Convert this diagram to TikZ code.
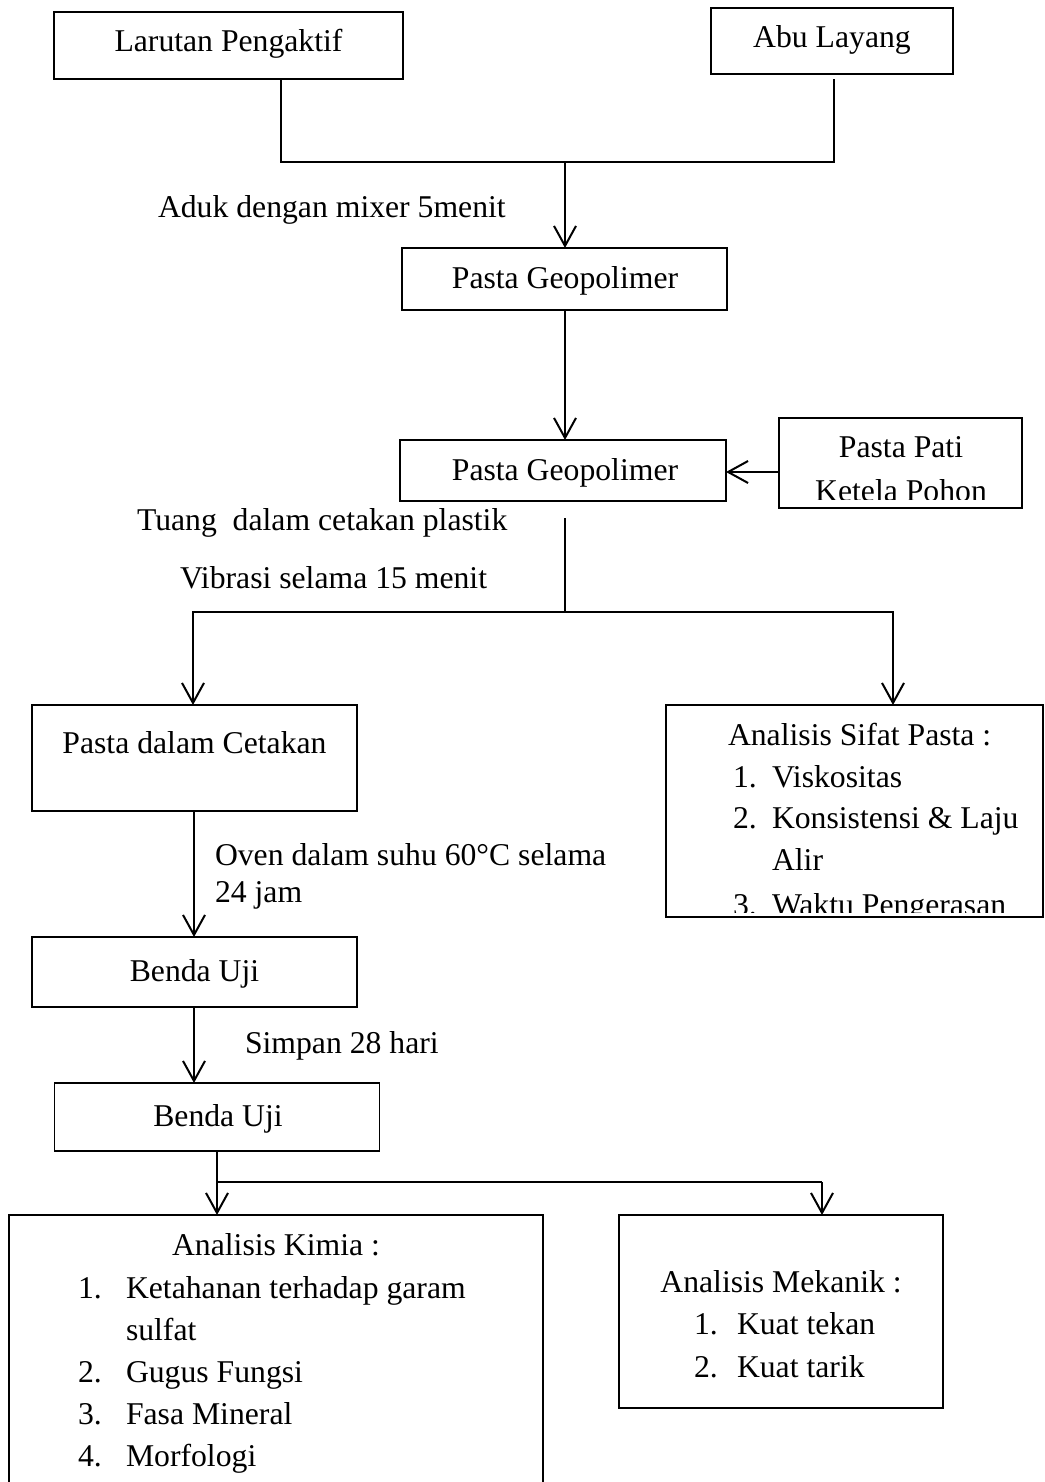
\documentclass[tikz,border=0pt]{standalone}
\usepackage{fontspec}
\setmainfont{Liberation Serif}
\usetikzlibrary{arrows.meta,calc}
\begin{document}
\begin{tikzpicture}[x=1pt,y=-1pt,
  box/.style={draw, line width=1.3pt, inner sep=0pt, outer sep=0pt},
  txt/.style={inner sep=0pt, outer sep=0pt, font=\fontsize{31.7}{38}\selectfont},
  conn/.style={line width=2pt},
  arr/.style={line width=2pt, -{Straight Barb[length=20pt,width=22pt,line width=2pt]}}]
\path[use as bounding box, clip] (0,0) rectangle (1044,1482);
\fill[white] (0,0) rectangle (1044,1482);
% boxes
\node[box, minimum width=349pt, minimum height=67pt] (lp) at (228.5,45.5) {};
\node[box, minimum width=242pt, minimum height=66pt] (ab) at (832,41) {};
\node[box, minimum width=325pt, minimum height=62pt] (pg1) at (564.5,279) {};
\node[box, minimum width=326pt, minimum height=61pt] (pg2) at (563,470.5) {};
\node[box, minimum width=243pt, minimum height=90pt] (pp) at (900.5,463) {};
\node[box, minimum width=325pt, minimum height=106pt] (pdc) at (194.5,758) {};
\node[box, minimum width=377pt, minimum height=212pt] (sf) at (854.5,811) {};
\node[box, minimum width=325pt, minimum height=70pt] (bu1) at (194.5,972) {};
\node[box, minimum width=325pt, minimum height=68pt] (bu2) at (217,1117) {};
\node[box, minimum width=534pt, minimum height=290pt] (km) at (276,1360) {};
\node[box, minimum width=324pt, minimum height=193pt] (mk) at (781,1311.5) {};
% texts
\node[txt, anchor=base] (tlp) at (228.5,52) {Larutan Pengaktif};
\node[txt, anchor=base] (tab) at (832,48) {Abu Layang};
\node[txt, anchor=base west] (taduk) at (158,218) {Aduk dengan mixer 5menit};
\node[txt, anchor=base] (tpg1) at (565,288) {Pasta Geopolimer};
\node[txt, anchor=base] (tpg2) at (565,480) {Pasta Geopolimer};
\node[txt, anchor=base] (tpp1) at (901,457) {Pasta Pati};
\begin{scope}
\clip (780,419) rectangle (1021,499);
\node[txt, anchor=base] (tpp2) at (901,501) {Ketela Pohon};
\end{scope}
\node[txt, anchor=base west] (ttuang) at (137,530) {Tuang~ dalam cetakan plastik};
\node[txt, anchor=base west] (tvib) at (180,588) {Vibrasi selama 15 menit};
\node[txt, anchor=base] (tpdc) at (194.5,753) {Pasta dalam Cetakan};
\node[txt, anchor=base west] (tsf) at (728,745) {Analisis Sifat Pasta :};
\node[txt, anchor=base west] (tsf1n) at (733,787) {1.};
\node[txt, anchor=base west] (tsf1) at (772,787) {Viskositas};
\node[txt, anchor=base west] (tsf2n) at (733,828) {2.};
\node[txt, anchor=base west] (tsf2) at (772,828) {Konsistensi \& Laju};
\node[txt, anchor=base west] (tsf2b) at (772,870) {Alir};
\begin{scope}
\clip (667,706) rectangle (1042,912);
\node[txt, anchor=base west] (tsf3n) at (733,915) {3.};
\node[txt, anchor=base west] (tsf3) at (772,915) {Waktu Pengerasan};
\end{scope}
\node[txt, anchor=base west] (toven1) at (215,865) {Oven dalam suhu 60°C selama};
\node[txt, anchor=base west] (toven2) at (215,902) {24 jam};
\node[txt, anchor=base] (tbu1) at (194.5,981) {Benda Uji};
\node[txt, anchor=base west] (tsim) at (245,1053) {Simpan 28 hari};
\node[txt, anchor=base] (tbu2) at (218,1126) {Benda Uji};
\node[txt, anchor=base] (tkm) at (276,1255) {Analisis Kimia :};
\node[txt, anchor=base west] (tkm1n) at (78,1298) {1.};
\node[txt, anchor=base west] (tkm1) at (126,1298) {Ketahanan terhadap garam};
\node[txt, anchor=base west] (tkm1b) at (126,1340) {sulfat};
\node[txt, anchor=base west] (tkm2n) at (78,1382) {2.};
\node[txt, anchor=base west] (tkm2) at (126,1382) {Gugus Fungsi};
\node[txt, anchor=base west] (tkm3n) at (78,1424) {3.};
\node[txt, anchor=base west] (tkm3) at (126,1424) {Fasa Mineral};
\node[txt, anchor=base west] (tkm4n) at (78,1466) {4.};
\node[txt, anchor=base west] (tkm4) at (126,1466) {Morfologi};
\node[txt, anchor=base] (tmk) at (781,1292) {Analisis Mekanik :};
\node[txt, anchor=base west] (tmk1n) at (694,1334) {1.};
\node[txt, anchor=base west] (tmk1) at (737,1334) {Kuat tekan};
\node[txt, anchor=base west] (tmk2n) at (694,1377) {2.};
\node[txt, anchor=base west] (tmk2) at (737,1377) {Kuat tarik};
% junction coordinates
\coordinate (jl) at (281,162);
\coordinate (jr) at (834,162);
\coordinate (jrt) at (834,79);
\coordinate (jm) at (565,162);
\coordinate (ja) at (779,472);
\coordinate (s0) at (565,518);
\coordinate (s1) at (565,612);
\coordinate (sl) at (193,612);
\coordinate (sr) at (893,612);
\coordinate (cx1) at (194,0);
\coordinate (b0) at (217,1182);
\coordinate (br) at (822,1182);
% connectors
\draw[conn] (lp.south -| jl) -- (jl) -- (jr) -- (jrt);
\draw[arr] (jm) -- (pg1.north -| jm);
\draw[arr] (pg1.south -| jm) -- (pg2.north -| jm);
\draw[arr] (ja) -- (ja -| pg2.east);
\draw[conn] (s0) -- (s1);
\draw[arr] (s1) -| (pdc.north -| sl);
\draw[arr] (s1) -| (sf.north -| sr);
\draw[arr] (pdc.south -| cx1) -- (bu1.north -| cx1);
\draw[arr] (bu1.south -| cx1) -- (bu2.north -| cx1);
\draw[line width=2.6pt] (bu2.south -| b0) -- (b0) -- (br);
\draw[arr] (b0) -- (km.north -| b0);
\draw[arr] (br) -- (mk.north -| br);
\end{tikzpicture}
\end{document}
